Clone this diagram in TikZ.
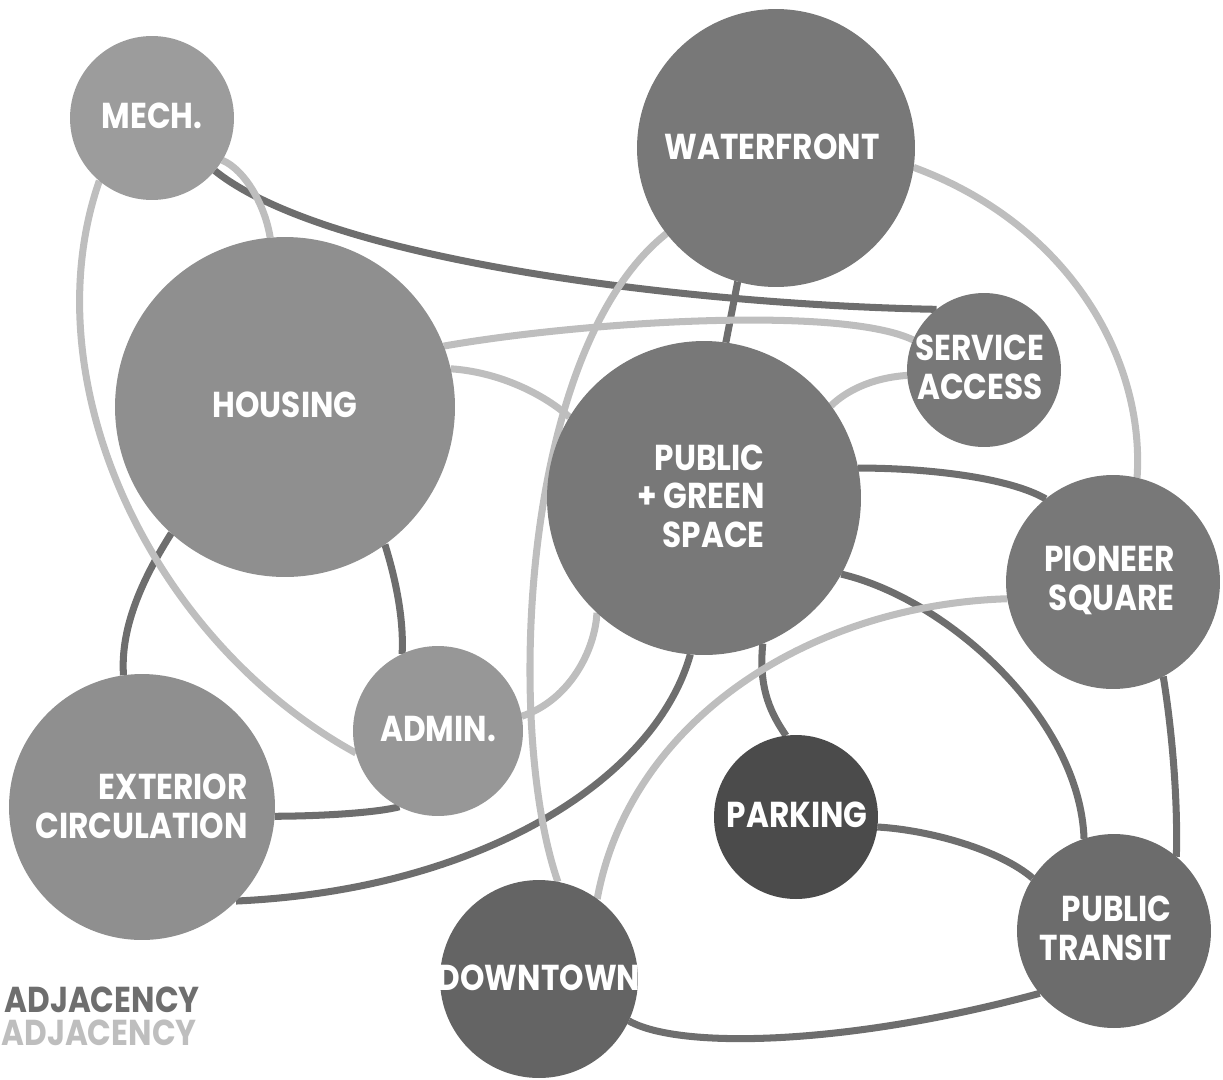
\documentclass[tikz,border=0pt]{standalone}
\usepackage{fontspec}
\newfontfamily\labelfont{Poppins}[FakeStretch=0.865]
\usetikzlibrary{backgrounds}

\definecolor{strong}{HTML}{6E6E6E}
\definecolor{weak}{HTML}{BEBEBE}
\definecolor{light}{HTML}{9C9C9C}
\definecolor{mid}{HTML}{8F8F8F}
\definecolor{midlight}{HTML}{979797}
\definecolor{dim}{HTML}{787878}
\definecolor{dimmer}{HTML}{6C6C6C}
\definecolor{deep}{HTML}{646464}
\definecolor{deepest}{HTML}{4B4B4B}

\tikzset{
  zone/.style={circle, inner sep=0pt, outer sep=0pt},
  tag/.style={text=white, inner sep=0pt, font=\labelfont\bfseries\fontsize{20.5}{22}\selectfont},
  key/.style={tag, anchor=east},
  near/.style={draw=strong, line width=4pt},
  far/.style={draw=weak, line width=4pt},
}

\begin{document}
\begin{tikzpicture}[x=0.02cm, y=-0.02cm]
  \useasboundingbox (0,0) rectangle (1223,1079);

  % places
  \node[zone, fill=light, minimum size=3.28cm] (mech) at (152,118) {};
  \node[zone, fill=mid, minimum size=6.8cm] (housing) at (285,407) {};
  \node[zone, fill=dim, minimum size=5.56cm] (waterfront) at (776,148) {};
  \node[zone, fill=dim, minimum size=3.08cm] (service) at (984,370) {};
  \node[zone, fill=dim, minimum size=6.28cm] (public) at (704,498) {};
  \node[zone, fill=dim, minimum size=4.28cm] (pioneer) at (1113,582) {};
  \node[zone, fill=midlight, minimum size=3.4cm] (admin) at (438,731) {};
  \node[zone, fill=mid, minimum size=5.32cm] (exterior) at (142,807) {};
  \node[zone, fill=deepest, minimum size=3.28cm] (parking) at (796,817) {};
  \node[zone, fill=deep, minimum size=3.96cm] (downtown) at (539,979) {};
  \node[zone, fill=dimmer, minimum size=3.88cm] (transit) at (1114,931) {};

  % names
  \node[tag] (mechT) at (152,116) {MECH.};
  \node[tag] (waterfrontT) at (772,147) {WATERFRONT};
  \node[tag] (housingT) at (285,405) {HOUSING};
  \node[tag, align=center] (serviceT) at (980,367) {SERVICE\\ACCESS};
  \node[tag, align=right, anchor=east] (publicT) at (765,496) {PUBLIC\\+ GREEN\\SPACE};
  \node[tag, align=right, anchor=east] (pioneerT) at (1175,580) {PIONEER\\SQUARE};
  \node[tag] (adminT) at (438,729) {ADMIN.};
  \node[tag, align=right, anchor=east] (exteriorT) at (248,806) {EXTERIOR\\CIRCULATION};
  \node[tag] (parkingT) at (797,815) {PARKING};
  \node[tag] (downtownT) at (539,978) {DOWNTOWN};
  \node[tag, align=right, anchor=east] (transitT) at (1172,928) {PUBLIC\\TRANSIT};

  % legend
  \node[key, text=strong] (strongT) at (200,1000) {ADJACENCY};
  \node[key, text=weak] (weakT) at (197,1033) {ADJACENCY};

  \begin{scope}[on background layer]
    % strong adjacency
    \draw[near] (mech.-40) .. controls (330,263) and (700,305) .. (service.128);
    \draw[near] (waterfront.-106) -- (public.82);
    \draw[near] (housing.-132) .. controls (145,575) and (120,625) .. (exterior.98);
    \draw[near] (housing.-54) .. controls (396,580) and (404,620) .. (admin.115);
    \draw[near] (exterior.-4) .. controls (330,816) and (380,812) .. (admin.-117);
    \draw[near] (public.-95) .. controls (655,780) and (480,890) .. (exterior.-45);
    \draw[near] (public.-68) .. controls (758,690) and (772,715) .. (parking.97);
    \draw[near] (public.11) .. controls (930,468) and (1010,478) .. (pioneer.129);
    \draw[near] (public.-29) .. controls (950,600) and (1080,720) .. (transit.108);
    \draw[near] (pioneer.-62) .. controls (1172,730) and (1178,800) .. (transit.50);
    \draw[near] (parking.-7) .. controls (930,830) and (1000,850) .. (transit.147);
    \draw[near] (downtown.-25) .. controls (680,1050) and (850,1045) .. (transit.-140);

    % weak adjacency
    \draw[far] (mech.-130) .. controls (30,380) and (150,640) .. (admin.-165);
    \draw[far] (mech.-31) .. controls (245,170) and (265,205) .. (housing.95);
    \draw[far] (housing.21) .. controls (580,322) and (840,305) .. (service.157);
    \draw[far] (housing.13) .. controls (500,372) and (545,395) .. (public.149);
    \draw[far] (waterfront.-142) .. controls (520,350) and (505,730) .. (downtown.79);
    \draw[far] (waterfront.-8) .. controls (1070,225) and (1145,360) .. (pioneer.77);
    \draw[far] (service.-176) .. controls (870,378) and (845,392) .. (public.36);
    \draw[far] (pioneer.-171) .. controls (810,605) and (630,720) .. (downtown.54);
    \draw[far] (admin.10) .. controls (570,700) and (595,650) .. (public.-133);
  \end{scope}
\end{tikzpicture}
\end{document}
